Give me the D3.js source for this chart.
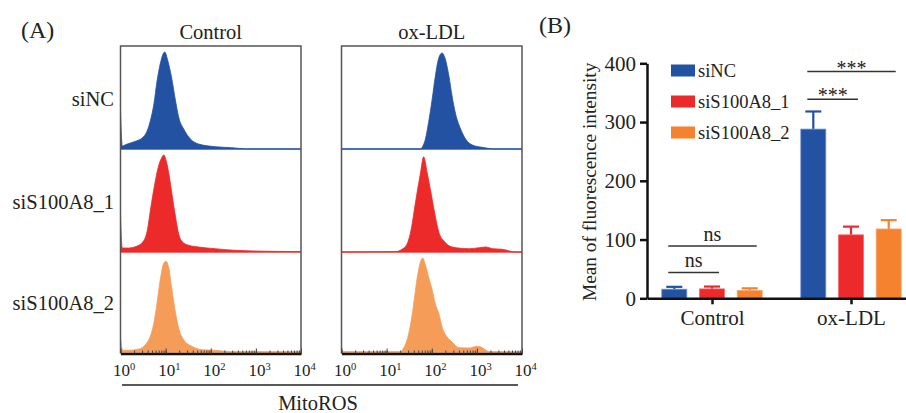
<!DOCTYPE html>
<html lang="en">
  <head>
    <meta charset="UTF-8" />
    <title>MitoROS</title>
    <script src="https://cdn.jsdelivr.net/npm/d3@7/dist/d3.min.js"></script>
    <style>
      body { margin: 0; background: #fff; }
      text { font-family: "Liberation Serif", "Times New Roman", serif; fill: #222; }
    </style>
  </head>
  <body>
    <div id="wrapper"></div>
    <script>
      // flow histograms, [log10 MitoROS, relative count]
      const ctrlSiNC = [[0, 38], [0.04, 3], [0.11, 4.3], [0.33, 7.7], [0.48, 11], [0.59, 18], [0.66, 28],
        [0.74, 45], [0.81, 68], [0.88, 85], [0.98, 97], [1.05, 88], [1.13, 72], [1.22, 48], [1.3, 30],
        [1.4, 20], [1.55, 10], [1.73, 5], [2.1, 2.3], [2.47, 1.3], [2.69, 0.3], [2.8, 0], [4, 0]];
      const ctrlS1 = [[0, 35], [0.04, 4], [0.18, 4], [0.37, 6], [0.52, 11.7], [0.6, 23], [0.66, 41],
        [0.72, 58], [0.78, 73], [0.85, 87], [0.91, 94], [0.96, 97], [1.02, 90], [1.08, 76], [1.16, 52],
        [1.22, 35], [1.29, 18], [1.36, 10.7], [1.51, 6.7], [1.73, 5], [2.1, 3.3], [2.54, 1.7], [3.28, 0.7],
        [3.98, 0.3], [4, 0]];
      const ctrlS2 = [[0, 14], [0.05, 1.7], [0.18, 1.7], [0.41, 3], [0.55, 7.3], [0.66, 15.7], [0.74, 29],
        [0.81, 49], [0.88, 72], [0.96, 89], [1.01, 90.7], [1.07, 84], [1.14, 62], [1.22, 39], [1.3, 22],
        [1.4, 12.3], [1.58, 5.7], [1.8, 2.3], [2.1, 1.7], [2.32, 0.7], [2.45, 0], [4, 0]];
      const oxSiNC = [[0, 0], [1.75, 0], [1.8, 2.7], [1.86, 10], [1.93, 26.7], [2.01, 50], [2.08, 73],
        [2.16, 91.7], [2.23, 96], [2.3, 90], [2.38, 73], [2.45, 53], [2.54, 33], [2.64, 20], [2.75, 10],
        [2.9, 4], [3.12, 1.7], [3.31, 0.3], [3.4, 0], [4, 0]];
      const oxS1 = [[0, 0], [1.19, 0.3], [1.34, 2.7], [1.45, 7.7], [1.55, 24], [1.62, 44], [1.67, 58],
        [1.75, 79], [1.82, 95.3], [1.9, 79], [1.99, 57.7], [2.07, 37.7], [2.16, 19.3], [2.27, 11],
        [2.45, 5], [2.83, 3.3], [3.05, 4.3], [3.2, 5], [3.35, 3.3], [3.57, 2.7], [3.72, 1], [3.83, 0], [4, 0]];
      const oxS2 = [[0, 0], [1.3, 0], [1.38, 4.3], [1.45, 11.7], [1.52, 25], [1.6, 48], [1.67, 72],
        [1.75, 90], [1.8, 94], [1.86, 87], [1.93, 75], [2.01, 62], [2.08, 48], [2.16, 38], [2.23, 25],
        [2.34, 15], [2.45, 10], [2.6, 4.3], [2.83, 4], [3.01, 5.7], [3.12, 4.3], [3.23, 1], [3.29, 0], [4, 0]];

      const histTitles = ["Control", "ox-LDL"];
      const rowNames = ["siNC", "siS100A8_1", "siS100A8_2"];
      const decades = [0, 1, 2, 3, 4];

      // bar chart
      const groups = ["Control", "ox-LDL"];
      const seriesNames = ["siNC", "siS100A8_1", "siS100A8_2"];
      const meanSiNC = [15.5, 288];
      const errSiNC = [4, 30];
      const meanS1 = [16, 108];
      const errS1 = [4, 14];
      const meanS2 = [13.5, 118];
      const errS2 = [3.5, 15];
      const yTicks = [0, 100, 200, 300, 400];

      // significance brackets
      const sigGroup = ["Control", "Control", "ox-LDL", "ox-LDL"];
      const sigTo = ["siS100A8_1", "siS100A8_2", "siS100A8_1", "siS100A8_2"];
      const sigLevel = [44, 89, 339, 386];
      const sigText = ["ns", "ns", "***", "***"];

      const histColors = ["#2352a2", "#ed2a2a", "#f59c58"];
      const barColors = ["#2452a3", "#ec2a2c", "#f4822f"];
      const barEdges = ["#6d8ed2", "#f36a6a", "#f8a56a"];

      const dimensions = {
        width: 906,
        height: 413,
        hist: { cols: [120.5, 341.5], width: 180.5, top: 46, bases: [149, 252, 352], axisY: 353.5 },
        bars: { top: 63.3, bottom: 298.3, left: 647, right: 906, groupX: [712, 851], spread: 37.7, barW: 25 },
      };

      const svg = d3
        .select("#wrapper")
        .append("svg")
        .attr("width", dimensions.width)
        .attr("height", dimensions.height);

      // ---------- panel A ----------
      const h = dimensions.hist;
      const histRows = [
        [ctrlSiNC, oxSiNC],
        [ctrlS1, oxS1],
        [ctrlS2, oxS2],
      ];

      svg.append("text").attr("x", 21).attr("y", 38).style("font-size", "24px").text("(A)");

      h.cols.forEach((x0, c) => {
        const x = d3.scaleLog().domain([1, 1e4]).range([x0, x0 + h.width]);
        const cell = svg.append("g");

        cell
          .append("clipPath")
          .attr("id", "clip" + c)
          .append("rect")
          .attr("x", x0)
          .attr("y", h.top)
          .attr("width", h.width)
          .attr("height", h.axisY - h.top);

        histRows.forEach((row, r) => {
          const base = h.bases[r];
          const y = d3.scaleLinear().domain([0, 100]).range([base, base - 100]);
          const area = d3
            .area()
            .x((d) => x(Math.pow(10, d[0])))
            .y0(y(0))
            .y1((d) => y(d[1]))
            .curve(d3.curveMonotoneX);
          cell
            .append("path")
            .attr("clip-path", `url(#clip${c})`)
            .attr("d", area(row[c]))
            .attr("fill", histColors[r])
            .attr("stroke", histColors[r])
            .attr("stroke-width", 0.8);
          cell
            .append("line")
            .attr("x1", x0)
            .attr("x2", x0 + h.width)
            .attr("y1", y(0))
            .attr("y2", y(0))
            .attr("stroke", histColors[r])
            .attr("stroke-width", 1);
        });

        // frame
        cell
          .append("path")
          .attr("d", `M${x0},${h.axisY}V${h.top}H${x0 + h.width}V${h.axisY}`)
          .attr("fill", "none")
          .attr("stroke", "#555")
          .attr("stroke-width", 1.5);

        // log axis, ticks pointing up
        const minor = cell
          .append("g")
          .attr("transform", `translate(0,${h.axisY})`)
          .call(d3.axisBottom(x).tickValues(x.ticks()).tickSize(-3).tickSizeOuter(0).tickFormat(""));
        minor.select(".domain").attr("stroke", "#111").attr("stroke-width", 2.5);
        minor.selectAll(".tick line").attr("stroke", "#444");
        const major = cell
          .append("g")
          .attr("transform", `translate(0,${h.axisY})`)
          .call(d3.axisBottom(x).tickValues(decades.map((k) => Math.pow(10, k))).tickSize(-5).tickSizeOuter(0).tickFormat(""));
        major.select(".domain").remove();
        major.selectAll(".tick line").attr("stroke", "#444");

        decades.forEach((k) => {
          const t = cell
            .append("text")
            .attr("x", x(Math.pow(10, k)) - 7.5)
            .attr("y", 376)
            .style("font-size", "17px");
          t.append("tspan").text("10");
          t.append("tspan").attr("dy", -6).style("font-size", "10.5px").text(k);
        });

        svg
          .append("text")
          .attr("x", x0 + h.width / 2)
          .attr("y", 39)
          .attr("text-anchor", "middle")
          .style("font-size", "20.5px")
          .text(histTitles[c]);
      });

      rowNames.forEach((name, r) => {
        const mid = r === 0 ? (h.top + h.bases[0]) / 2 : (h.bases[r - 1] + h.bases[r]) / 2;
        svg
          .append("text")
          .attr("x", 114)
          .attr("y", mid + 8)
          .attr("text-anchor", "end")
          .style("font-size", "20.5px")
          .text(name);
      });

      svg
        .append("line")
        .attr("x1", 122)
        .attr("x2", 518)
        .attr("y1", 385)
        .attr("y2", 385)
        .attr("stroke", "#222")
        .attr("stroke-width", 1.5);
      svg
        .append("text")
        .attr("x", 318)
        .attr("y", 410)
        .attr("text-anchor", "middle")
        .style("font-size", "20.5px")
        .text("MitoROS");

      // ---------- panel B ----------
      const b = dimensions.bars;
      const yScale = d3.scaleLinear().domain([0, 400]).range([b.bottom, b.top]);
      const xGroup = d3.scalePoint().domain(groups).range(b.groupX);
      const xSeries = d3.scalePoint().domain(seriesNames).range([-b.spread, b.spread]);
      const means = [meanSiNC, meanS1, meanS2];
      const errs = [errSiNC, errS1, errS2];

      svg.append("text").attr("x", 539).attr("y", 33).style("font-size", "24px").text("(B)");

      const bounds = svg.append("g");

      seriesNames.forEach((s, i) => {
        groups.forEach((g, j) => {
          const cx = xGroup(g) + xSeries(s);
          const top = yScale(means[i][j]);
          const errTop = yScale(means[i][j] + errs[i][j]);
          bounds
            .append("line")
            .attr("x1", cx)
            .attr("x2", cx)
            .attr("y1", top)
            .attr("y2", errTop)
            .attr("stroke", barColors[i])
            .attr("stroke-width", 2.2);
          bounds
            .append("line")
            .attr("x1", cx - 8)
            .attr("x2", cx + 8)
            .attr("y1", errTop)
            .attr("y2", errTop)
            .attr("stroke", barColors[i])
            .attr("stroke-width", 2.2);
          bounds
            .append("rect")
            .attr("x", cx - b.barW / 2)
            .attr("y", top)
            .attr("width", b.barW)
            .attr("height", yScale(0) - top)
            .attr("fill", barColors[i])
            .attr("stroke", barEdges[i])
            .attr("stroke-width", 0.8);
        });
      });

      const yAxis = bounds
        .append("g")
        .attr("transform", `translate(${b.left},0)`)
        .call(d3.axisLeft(yScale).tickValues(yTicks).tickSize(7).tickSizeOuter(0).tickPadding(4));
      yAxis.select(".domain").attr("stroke", "#111").attr("stroke-width", 2.5);
      yAxis.selectAll(".tick line").attr("stroke", "#111").attr("stroke-width", 2.5);
      yAxis.selectAll(".tick text").style("font-size", "21px").style("font-family", '"Liberation Serif", serif').attr("fill", "#222");

      const xAxisScale = d3.scaleLinear().domain([b.left, b.right]).range([b.left, b.right]);
      const xAxis = bounds
        .append("g")
        .attr("transform", `translate(0,${yScale(0)})`)
        .call(d3.axisBottom(xAxisScale).tickValues(groups.map(xGroup)).tickSize(6).tickSizeOuter(0).tickFormat((v, i) => groups[i]).tickPadding(6));
      xAxis.select(".domain").attr("stroke", "#111").attr("stroke-width", 2.5);
      xAxis.selectAll(".tick line").attr("stroke", "#111").attr("stroke-width", 2.5);
      xAxis.selectAll(".tick text").style("font-size", "21px").style("font-family", '"Liberation Serif", serif').attr("fill", "#222");

      svg
        .append("text")
        .attr("transform", `translate(596,${(b.top + b.bottom) / 2 + 1}) rotate(-90)`)
        .attr("text-anchor", "middle")
        .style("font-size", "19.3px")
        .text("Mean of fluorescence intensity");

      // legend
      seriesNames.forEach((s, i) => {
        const ly = 70.5 + i * 31;
        svg.append("rect").attr("x", 671).attr("y", ly - 6).attr("width", 24).attr("height", 12).attr("fill", barColors[i]);
        svg.append("text").attr("x", 698).attr("y", ly + 6).style("font-size", "18.5px").text(s);
      });

      // significance
      sigText.forEach((t, i) => {
        const g = sigGroup[i];
        const x1 = xGroup(g) + xSeries(seriesNames[0]) - 6;
        const x2 = xGroup(g) + xSeries(sigTo[i]) + 7;
        const ly = yScale(sigLevel[i]);
        bounds
          .append("line")
          .attr("x1", x1)
          .attr("x2", x2)
          .attr("y1", ly)
          .attr("y2", ly)
          .attr("stroke", "#333")
          .attr("stroke-width", 1.5);
        bounds
          .append("text")
          .attr("x", (x1 + x2) / 2)
          .attr("y", t === "ns" ? ly - 5 : ly + 3)
          .attr("text-anchor", "middle")
          .style("font-size", "20px")
          .text(t);
      });
    </script>
  </body>
</html>
